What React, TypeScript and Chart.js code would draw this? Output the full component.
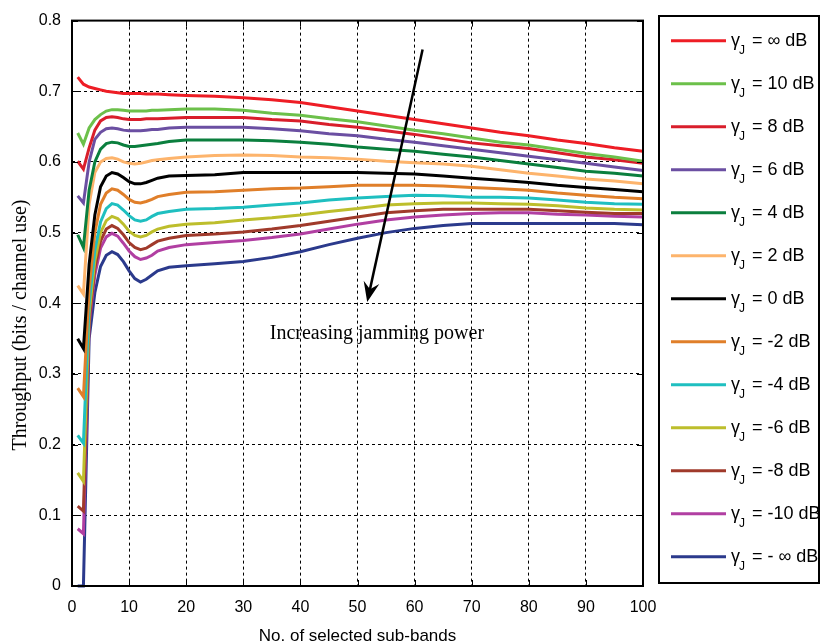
import React, { useEffect, useRef } from "react";
import { Chart, registerables } from "chart.js";

Chart.register(...registerables);

// ---------- data ----------
const subBands = [1, 2, 3, 4, 5, 6, 7, 8, 9, 10, 11, 12, 13, 14, 15, 17, 20, 25, 30, 35, 40, 45, 50, 55, 60, 65, 70, 75, 80, 85, 90, 95, 100];

const gammaLabels = ["∞", "10", "8", "6", "4", "2", "0", "-2", "-4", "-6", "-8", "-10", "- ∞"];

const seriesColors = ["#EE1D25", "#6CC04A", "#D91E2B", "#6B4FA2", "#0B7F3E", "#FDB46C", "#000000", "#E07F2A", "#1FBFC0", "#BDBE2C", "#A03A2B", "#B13FA2", "#2B3A8C"];

const thrInf = [0.720, 0.710, 0.706, 0.704, 0.702, 0.700, 0.699, 0.698, 0.697, 0.697, 0.697, 0.697, 0.696, 0.696, 0.696, 0.695, 0.694, 0.693, 0.691, 0.688, 0.684, 0.678, 0.672, 0.666, 0.660, 0.654, 0.648, 0.642, 0.637, 0.631, 0.626, 0.620, 0.615];
const thr10 = [0.641, 0.625, 0.648, 0.660, 0.667, 0.672, 0.674, 0.674, 0.673, 0.672, 0.672, 0.672, 0.672, 0.673, 0.673, 0.674, 0.675, 0.675, 0.673, 0.669, 0.666, 0.661, 0.657, 0.651, 0.645, 0.640, 0.634, 0.628, 0.624, 0.618, 0.612, 0.607, 0.601];
const thr8 = [0.601, 0.590, 0.620, 0.645, 0.658, 0.663, 0.664, 0.663, 0.661, 0.660, 0.660, 0.660, 0.661, 0.661, 0.661, 0.662, 0.663, 0.663, 0.663, 0.660, 0.658, 0.653, 0.649, 0.644, 0.639, 0.633, 0.627, 0.623, 0.619, 0.613, 0.607, 0.603, 0.598];
const thr6 = [0.552, 0.542, 0.600, 0.632, 0.642, 0.647, 0.648, 0.647, 0.645, 0.644, 0.644, 0.644, 0.645, 0.646, 0.646, 0.648, 0.649, 0.649, 0.649, 0.647, 0.644, 0.640, 0.637, 0.632, 0.628, 0.623, 0.618, 0.613, 0.608, 0.603, 0.598, 0.593, 0.588];
const thr4 = [0.497, 0.479, 0.560, 0.600, 0.618, 0.626, 0.628, 0.627, 0.624, 0.622, 0.622, 0.623, 0.624, 0.625, 0.626, 0.629, 0.631, 0.631, 0.631, 0.630, 0.628, 0.625, 0.621, 0.618, 0.615, 0.611, 0.607, 0.602, 0.597, 0.592, 0.587, 0.584, 0.580];
const thr2 = [0.425, 0.413, 0.540, 0.585, 0.600, 0.605, 0.606, 0.604, 0.600, 0.598, 0.597, 0.598, 0.600, 0.602, 0.603, 0.605, 0.607, 0.609, 0.610, 0.609, 0.607, 0.606, 0.604, 0.601, 0.599, 0.597, 0.594, 0.589, 0.584, 0.580, 0.576, 0.573, 0.569];
const thr0 = [0.350, 0.336, 0.455, 0.525, 0.565, 0.580, 0.585, 0.583, 0.578, 0.572, 0.569, 0.569, 0.571, 0.574, 0.577, 0.580, 0.581, 0.582, 0.585, 0.585, 0.585, 0.585, 0.585, 0.584, 0.583, 0.580, 0.577, 0.574, 0.571, 0.567, 0.564, 0.561, 0.558];
const thrM2 = [0.280, 0.268, 0.420, 0.500, 0.540, 0.556, 0.562, 0.560, 0.554, 0.547, 0.543, 0.542, 0.544, 0.547, 0.551, 0.554, 0.557, 0.558, 0.560, 0.562, 0.563, 0.565, 0.567, 0.567, 0.567, 0.566, 0.564, 0.562, 0.560, 0.556, 0.553, 0.550, 0.548];
const thrM4 = [0.213, 0.202, 0.400, 0.475, 0.515, 0.534, 0.541, 0.539, 0.532, 0.524, 0.518, 0.516, 0.518, 0.523, 0.527, 0.530, 0.533, 0.534, 0.536, 0.539, 0.542, 0.546, 0.549, 0.551, 0.553, 0.552, 0.550, 0.550, 0.549, 0.546, 0.543, 0.541, 0.540];
const thrM6 = [0.160, 0.148, 0.385, 0.460, 0.500, 0.517, 0.523, 0.520, 0.512, 0.502, 0.496, 0.494, 0.496, 0.501, 0.505, 0.509, 0.512, 0.514, 0.518, 0.521, 0.525, 0.530, 0.534, 0.539, 0.541, 0.542, 0.542, 0.541, 0.540, 0.538, 0.535, 0.533, 0.532];
const thrM8 = [0.113, 0.106, 0.375, 0.450, 0.488, 0.505, 0.510, 0.506, 0.497, 0.486, 0.479, 0.476, 0.478, 0.483, 0.488, 0.492, 0.496, 0.498, 0.501, 0.505, 0.510, 0.516, 0.522, 0.528, 0.531, 0.533, 0.533, 0.533, 0.533, 0.531, 0.529, 0.527, 0.527];
const thrM10 = [0.081, 0.074, 0.370, 0.440, 0.478, 0.494, 0.499, 0.495, 0.485, 0.474, 0.466, 0.462, 0.464, 0.468, 0.474, 0.479, 0.483, 0.486, 0.489, 0.493, 0.498, 0.505, 0.512, 0.518, 0.522, 0.525, 0.527, 0.528, 0.528, 0.526, 0.525, 0.523, 0.522];
const thrMInf = [0, 0, 0.350, 0.415, 0.452, 0.468, 0.473, 0.469, 0.459, 0.446, 0.435, 0.430, 0.434, 0.440, 0.446, 0.451, 0.453, 0.456, 0.459, 0.465, 0.473, 0.483, 0.492, 0.500, 0.506, 0.510, 0.513, 0.513, 0.513, 0.513, 0.513, 0.513, 0.511];

const allSeries = [thrInf, thr10, thr8, thr6, thr4, thr2, thr0, thrM2, thrM4, thrM6, thrM8, thrM10, thrMInf];

const xTickLabels = ["0", "10", "20", "30", "40", "50", "60", "70", "80", "90", "100"];
const yTickLabels = ["0", "0.1", "0.2", "0.3", "0.4", "0.5", "0.6", "0.7", "0.8"];

const xTitle = "No. of selected sub-bands";
const yTitle = "Throughput (bits / channel use)";
const annotationText = "Increasing jamming power";
// annotation arrow in data coordinates [sub-bands, throughput]
const arrowFrom = [61.4, 0.759];
const arrowTo = [51.7, 0.402];
const annotationAt = [53.4, 0.357];

const SANS = '"Liberation Sans", Arial, sans-serif';
const SERIF = '"Liberation Serif", "Times New Roman", serif';

const decorPlugin = {
  id: "decor",
  afterDraw(chart: any) {
    const { ctx, chartArea: a, scales } = chart;
    const xs = scales.x;
    const ys = scales.y;
    ctx.save();

    // frame
    ctx.strokeStyle = "#000";
    ctx.lineWidth = 2;
    ctx.setLineDash([]);
    ctx.strokeRect(a.left, a.top, a.right - a.left, a.bottom - a.top);

    // inward tick marks on all four sides
    ctx.lineWidth = 1;
    ctx.beginPath();
    xs.ticks.forEach((t: any) => {
      const px = Math.round(xs.getPixelForValue(t.value)) + 0.5;
      ctx.moveTo(px, a.bottom);
      ctx.lineTo(px, a.bottom - 6);
      ctx.moveTo(px, a.top);
      ctx.lineTo(px, a.top + 6);
    });
    ys.ticks.forEach((t: any) => {
      const py = Math.round(ys.getPixelForValue(t.value)) + 0.5;
      ctx.moveTo(a.left, py);
      ctx.lineTo(a.left + 6, py);
      ctx.moveTo(a.right, py);
      ctx.lineTo(a.right - 6, py);
    });
    ctx.stroke();

    // y title
    ctx.save();
    ctx.translate(21, 325);
    ctx.rotate(-Math.PI / 2);
    ctx.font = `20px ${SERIF}`;
    ctx.fillStyle = "#000";
    ctx.textAlign = "center";
    ctx.textBaseline = "middle";
    ctx.fillText(yTitle, 0, 0);
    ctx.restore();

    // arrow annotation
    const x1 = xs.getPixelForValue(arrowFrom[0]);
    const y1 = ys.getPixelForValue(arrowFrom[1]);
    const x2 = xs.getPixelForValue(arrowTo[0]);
    const y2 = ys.getPixelForValue(arrowTo[1]);
    const ang = Math.atan2(y2 - y1, x2 - x1);
    const headLen = 20;
    const headW = 8;
    const ux = Math.cos(ang), uy = Math.sin(ang);
    const nx = -uy, ny = ux;
    ctx.strokeStyle = "#000";
    ctx.fillStyle = "#000";
    ctx.lineWidth = 2.5;
    ctx.beginPath();
    ctx.moveTo(x1, y1);
    ctx.lineTo(x2 - ux * 10, y2 - uy * 10);
    ctx.stroke();
    ctx.beginPath();
    ctx.moveTo(x2, y2);
    ctx.lineTo(x2 - ux * headLen + nx * headW, y2 - uy * headLen + ny * headW);
    ctx.lineTo(x2 - ux * 13, y2 - uy * 13);
    ctx.lineTo(x2 - ux * headLen - nx * headW, y2 - uy * headLen - ny * headW);
    ctx.closePath();
    ctx.fill();

    ctx.font = `20px ${SERIF}`;
    ctx.textAlign = "center";
    ctx.textBaseline = "middle";
    ctx.fillText(annotationText, xs.getPixelForValue(annotationAt[0]), ys.getPixelForValue(annotationAt[1]));

    // legend
    const lx = 659, ly = 16, lw = 160, lh = 567;
    ctx.lineWidth = 2;
    ctx.strokeRect(lx, ly, lw, lh);
    chart.data.datasets.forEach((ds: any, i: number) => {
      const cy = 40.7 + i * 43;
      ctx.strokeStyle = ds.borderColor;
      ctx.lineWidth = 3;
      ctx.beginPath();
      ctx.moveTo(671, cy);
      ctx.lineTo(726, cy);
      ctx.stroke();
      ctx.fillStyle = "#000";
      ctx.textAlign = "left";
      ctx.textBaseline = "alphabetic";
      ctx.font = `18px ${SANS}`;
      ctx.fillText("γ", 731, cy + 5);
      ctx.font = `12px ${SANS}`;
      ctx.fillText("J", 739, cy + 13);
      ctx.font = `18px ${SANS}`;
      ctx.fillText(`= ${gammaLabels[i]} dB`, 752, cy + 5);
    });

    ctx.restore();
  },
};

export default function App() {
  const canvasRef = useRef<HTMLCanvasElement | null>(null);

  useEffect(() => {
    if (!canvasRef.current) return;
    const datasets = allSeries.map((vals, i) => ({
      label: `γJ = ${gammaLabels[i]} dB`,
      data: subBands.map((x, k) => ({ x, y: vals[k] })),
      borderColor: seriesColors[i],
      backgroundColor: seriesColors[i],
      borderWidth: 3,
      pointRadius: 0,
      tension: 0,
      fill: false,
      clip: 4,
    }));

    const chart = new Chart(canvasRef.current, {
      type: "line",
      data: { datasets },
      options: {
        responsive: false,
        animation: false,
        devicePixelRatio: 1,
        layout: { padding: { left: 0, right: 180, top: 13, bottom: 0 } },
        plugins: { legend: { display: false }, tooltip: { enabled: false } },
        scales: {
          x: {
            type: "linear",
            min: 0,
            max: 100,
            ticks: {
              stepSize: 10,
              color: "#000",
              padding: 12,
              maxRotation: 0,
              font: { family: SANS, size: 16 },
              callback: (v: any) => xTickLabels[Math.round(Number(v) / 10)] ?? "",
            },
            grid: { color: "#000", lineWidth: 1, drawTicks: false },
            border: { display: false, dash: [3, 3] },
            title: { display: true, text: xTitle, color: "#000", font: { family: SANS, size: 17 }, padding: { top: 0, bottom: -3 } },
            afterFit: (s: any) => {
              s.height = 58;
            },
          },
          y: {
            type: "linear",
            min: 0,
            max: 0.8,
            ticks: {
              stepSize: 0.1,
              color: "#000",
              padding: 11,
              font: { family: SANS, size: 16 },
              callback: (v: any) => yTickLabels[Math.round(Number(v) * 10)] ?? "",
            },
            grid: { color: "#000", lineWidth: 1, drawTicks: false },
            border: { display: false, dash: [3, 3] },
            afterFit: (s: any) => {
              s.width = 72;
            },
          },
        },
      },
      plugins: [decorPlugin],
    });
    return () => chart.destroy();
  }, []);

  return (
    <div style={{ position: "absolute", left: 0, top: 0, width: 823, height: 644, background: "#fff" }}>
      <canvas ref={canvasRef} width={823} height={644} />
    </div>
  );
}
